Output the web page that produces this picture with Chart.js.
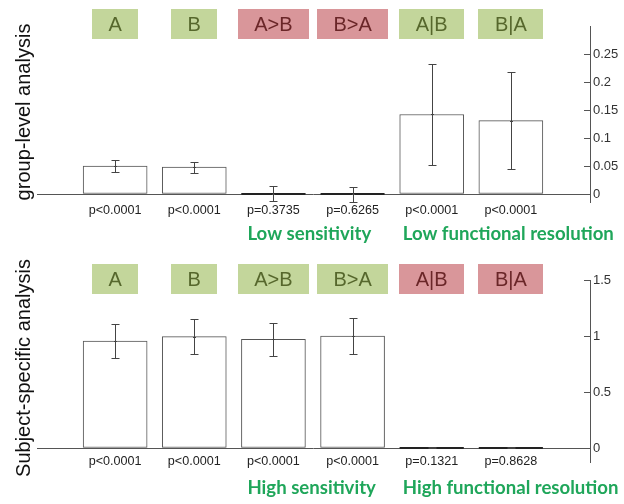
<!DOCTYPE html>
<html>
<head>
<meta charset="utf-8">
<script src="https://cdn.jsdelivr.net/npm/chart.js@4.4.1/dist/chart.umd.min.js"></script>
<style>
  body { margin: 0; background: #fff; }
  canvas { position: absolute; left: 0; }
</style>
</head>
<body>
<canvas id="groupChart" width="624" height="252" style="top:0"></canvas>
<canvas id="subjectChart" width="624" height="252" style="top:252px"></canvas>
<script>
// bars sit on slots 1..6, slots 0 and 7 are empty margins
const categories = ['A', 'B', 'A>B', 'B>A', 'A|B', 'B|A'];

const groupValues = [0.050, 0.048, 0.0008, -0.0008, 0.142, 0.131];
const groupErrors = [0.011, 0.010, 0.014, 0.013, 0.090, 0.086];
const groupPValues = ['p<0.0001', 'p<0.0001', 'p=0.3735', 'p=0.6265', 'p<0.0001', 'p<0.0001'];
const groupPass = [true, true, false, false, true, true];
const groupTicks = [0, 0.05, 0.1, 0.15, 0.2, 0.25];
const groupNotes = ['Low sensitivity', 'Low functional resolution'];

const subjectValues = [0.955, 0.995, 0.970, 1.0, 0.006, 0.003];
const subjectErrors = [0.150, 0.160, 0.150, 0.160, 0.005, 0.004];
const subjectPValues = ['p<0.0001', 'p<0.0001', 'p<0.0001', 'p<0.0001', 'p=0.1321', 'p=0.8628'];
const subjectPass = [true, true, true, true, false, false];
const subjectTicks = [0, 0.5, 1, 1.5];
const subjectNotes = ['High sensitivity', 'High functional resolution'];

const ARIAL = '"Liberation Sans", Arial, sans-serif';

const panelPlugin = {
    id: 'panel',
    afterDatasetsDraw(chart, args, opts) {
        const ctx = chart.ctx;
        const y = chart.scales.y;
        const area = chart.chartArea;
        const bars = chart.getDatasetMeta(0).data;
        const y0 = Math.round(y.getPixelForValue(0)) + 0.5;
        ctx.save();
        ctx.strokeStyle = '#555';
        ctx.lineWidth = 1;

        // baseline
        ctx.beginPath();
        ctx.moveTo(area.left + 1, y0);
        ctx.lineTo(area.right, y0);
        ctx.stroke();

        // near-zero bars show as a dark line on the baseline
        ctx.strokeStyle = '#222';
        categories.forEach((c, i) => {
            if (Math.abs(y.getPixelForValue(opts.values[i]) - y.getPixelForValue(0)) < 2) {
                const b = bars[i + 1];
                ctx.beginPath();
                ctx.moveTo(b.x - b.width / 2, y0 - 0.5);
                ctx.lineTo(b.x + b.width / 2, y0 - 0.5);
                ctx.lineWidth = 2;
                ctx.stroke();
            }
        });
        ctx.lineWidth = 1;
        ctx.strokeStyle = '#555';

        // tick marks pointing inward
        opts.ticks.forEach((t) => {
            const py = Math.round(y.getPixelForValue(t)) + 0.5;
            ctx.beginPath();
            ctx.moveTo(area.right - 6, py);
            ctx.lineTo(area.right, py);
            ctx.stroke();
        });

        // error bars
        ctx.strokeStyle = '#444';
        categories.forEach((c, i) => {
            const cx = Math.round(bars[i + 1].x) + 0.5;
            const v = opts.values[i];
            const e = opts.errors[i];
            const top = Math.round(y.getPixelForValue(v + e)) + 0.5;
            const bot = Math.round(y.getPixelForValue(v - e)) + 0.5;
            const mid = Math.round(y.getPixelForValue(v)) + 0.5;
            ctx.beginPath();
            ctx.moveTo(cx, top); ctx.lineTo(cx, bot);
            ctx.moveTo(cx - 4, top); ctx.lineTo(cx + 4, top);
            ctx.moveTo(cx - 4, bot); ctx.lineTo(cx + 4, bot);
            ctx.moveTo(cx - 1.5, mid); ctx.lineTo(cx + 1.5, mid);
            ctx.stroke();
        });

        // category boxes
        ctx.font = '20px ' + ARIAL;
        ctx.textAlign = 'center';
        ctx.textBaseline = 'middle';
        categories.forEach((c, i) => {
            const cx = bars[i + 1].x;
            const w = Math.round(ctx.measureText(c).width + 33);
            ctx.fillStyle = opts.pass[i] ? '#c3d69b' : '#d9969a';
            ctx.fillRect(Math.round(cx - w / 2), opts.boxTop, w, 30);
            ctx.fillStyle = opts.pass[i] ? '#56672c' : '#6a2628';
            ctx.fillText(c, cx, opts.boxTop + 16);
        });

        // p-values
        ctx.font = '12.6px ' + ARIAL;
        ctx.fillStyle = '#222';
        categories.forEach((c, i) => {
            ctx.fillText(opts.pvalues[i], bars[i + 1].x, opts.pTop);
        });

        // green notes, starting under bars 3 and 5
        ctx.font = 'bold 18.6px Lato, "Open Sans", sans-serif';
        ctx.fillStyle = '#1fa65a';
        ctx.textAlign = 'left';
        opts.notes.forEach((n, k) => {
            const b = bars[3 + k * 2];
            ctx.fillText(n, b.x - 26 - k * 3, opts.noteTop);
        });

        // left title
        ctx.font = '20px ' + ARIAL;
        ctx.fillStyle = '#111';
        ctx.textAlign = 'center';
        ctx.translate(24, opts.titleMid);
        ctx.rotate(-Math.PI / 2);
        ctx.fillText(opts.title, 0, 0);
        ctx.restore();
    }
};

function makeChart(id, cfg) {
    return new Chart(id, {
        type: 'bar',
        data: {
            labels: ['', ...categories, ''],
            datasets: [
                {
                    data: [null, ...cfg.values, null],
                    backgroundColor: '#ffffff',
                    borderColor: '#555555',
                    borderWidth: 1,
                    borderSkipped: false,
                    barThickness: 64,
                },
            ],
        },
        options: {
            responsive: false,
            animation: false,
            layout: { padding: { left: 36, right: 0, top: cfg.padTop, bottom: cfg.padBottom } },
            plugins: {
                legend: { display: false },
                tooltip: { enabled: false },
                panel: cfg,
            },
            scales: {
                x: { display: false, offset: false },
                y: {
                    position: 'right',
                    min: cfg.min,
                    max: cfg.max,
                    afterBuildTicks: (s) => {
                        s.ticks = cfg.ticks.map((v) => ({ value: v }));
                    },
                    afterFit: (s) => {
                        s.width = 34;
                    },
                    grid: { drawOnChartArea: false, drawTicks: false },
                    border: { color: '#555' },
                    ticks: {
                        padding: 3,
                        color: '#333',
                        font: { family: ARIAL, size: 13 },
                        callback: (v) => String(v),
                    },
                },
            },
        },
        plugins: [panelPlugin],
    });
}

makeChart('groupChart', {
    values: groupValues,
    errors: groupErrors,
    pvalues: groupPValues,
    pass: groupPass,
    ticks: groupTicks,
    notes: groupNotes,
    title: 'group-level analysis',
    min: -0.015,
    max: 0.3,
    padTop: 26,
    padBottom: 49.6,
    boxTop: 9,
    pTop: 211,
    noteTop: 234,
    titleMid: 112,
});

makeChart('subjectChart', {
    values: subjectValues,
    errors: subjectErrors,
    pvalues: subjectPValues,
    pass: subjectPass,
    ticks: subjectTicks,
    notes: subjectNotes,
    title: 'Subject-specific analysis',
    min: -0.13,
    max: 1.5,
    padTop: 28,
    padBottom: 41.4,
    boxTop: 12,
    pTop: 210,
    noteTop: 236,
    titleMid: 116,
});
</script>
</body>
</html>
